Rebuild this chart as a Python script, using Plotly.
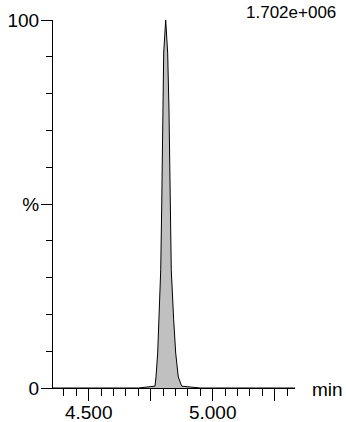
import plotly.graph_objects as go

# Chromatogram peak (time in min, intensity in %)
time_min = [4.356, 4.700, 4.7673, 4.7714, 4.7782, 4.7835, 4.7905, 4.7944, 4.7968, 4.7984,
            4.8024, 4.8105, 4.8185, 4.8238, 4.8250, 4.8290, 4.8330, 4.8427, 4.8508,
            4.8613, 4.8750, 4.950, 5.332]
intensity_pct = [0, 0, 0.5, 3.0, 9.5, 18.5, 32.1, 49.2, 67.4, 75.5,
                 91.0, 100.0, 91.0, 75.5, 67.4, 49.2, 32.1, 18.5, 9.5,
                 3.0, 0.5, 0, 0]

x_tickvals = [4.5, 4.75, 5.0, 5.25]
x_ticktext = ["4.500", "", "5.000", ""]
y_tickvals = [0, 50, 100]
y_ticktext = ["0", "%", "100"]
max_label = "1.702e+006"
x_unit = "min"

FONT = "Liberation Sans, Arial, Helvetica, sans-serif"

fig = go.Figure()
fig.add_trace(go.Scatter(
    x=time_min, y=intensity_pct, mode="lines",
    line=dict(color="black", width=1),
    fill="tozeroy", fillcolor="#c0c0c0",
    hoverinfo="skip", showlegend=False,
))

fig.update_layout(
    width=346, height=422,
    margin=dict(l=53, r=51, t=20, b=34, autoexpand=False),
    paper_bgcolor="white", plot_bgcolor="white",
    font=dict(family=FONT, size=19, color="black"),
    xaxis=dict(
        range=[4.356, 5.332], showgrid=False, zeroline=False, automargin=False,
        showline=True, linecolor="black", linewidth=1,
        ticks="outside", ticklen=12, tickwidth=1, tickcolor="black",
        tickvals=x_tickvals, ticktext=x_ticktext, ticklabelstandoff=-5,
        minor=dict(ticks="outside", ticklen=7, tickwidth=1, tickcolor="black",
                   dtick=0.05, tick0=4.0, showgrid=False),
        tickfont=dict(family=FONT, size=19, color="black"),
    ),
    yaxis=dict(
        range=[0, 100], showgrid=False, zeroline=False, automargin=False,
        showline=True, linecolor="black", linewidth=1,
        ticks="outside", ticklen=11, tickwidth=1, tickcolor="black",
        tickvals=y_tickvals, ticktext=y_ticktext, ticklabelstandoff=-2,
        minor=dict(ticks="outside", ticklen=6, tickwidth=1, tickcolor="black",
                   dtick=10, tick0=0, showgrid=False),
        tickfont=dict(family=FONT, size=19, color="black"),
    ),
    annotations=[
        dict(text=max_label, xref="paper", yref="paper", x=1.178, y=1.052,
             xanchor="right", yanchor="top", showarrow=False,
             font=dict(family=FONT, size=17, color="black")),
        dict(text=x_unit, xref="paper", yref="paper", x=1.062, y=-0.005,
             xanchor="left", yanchor="middle", showarrow=False,
             font=dict(family=FONT, size=19, color="black")),
    ],
)

fig.write_html("out.html", config={"displayModeBar": False},
               post_script="document.body.style.margin='0';document.body.style.padding='0';")
